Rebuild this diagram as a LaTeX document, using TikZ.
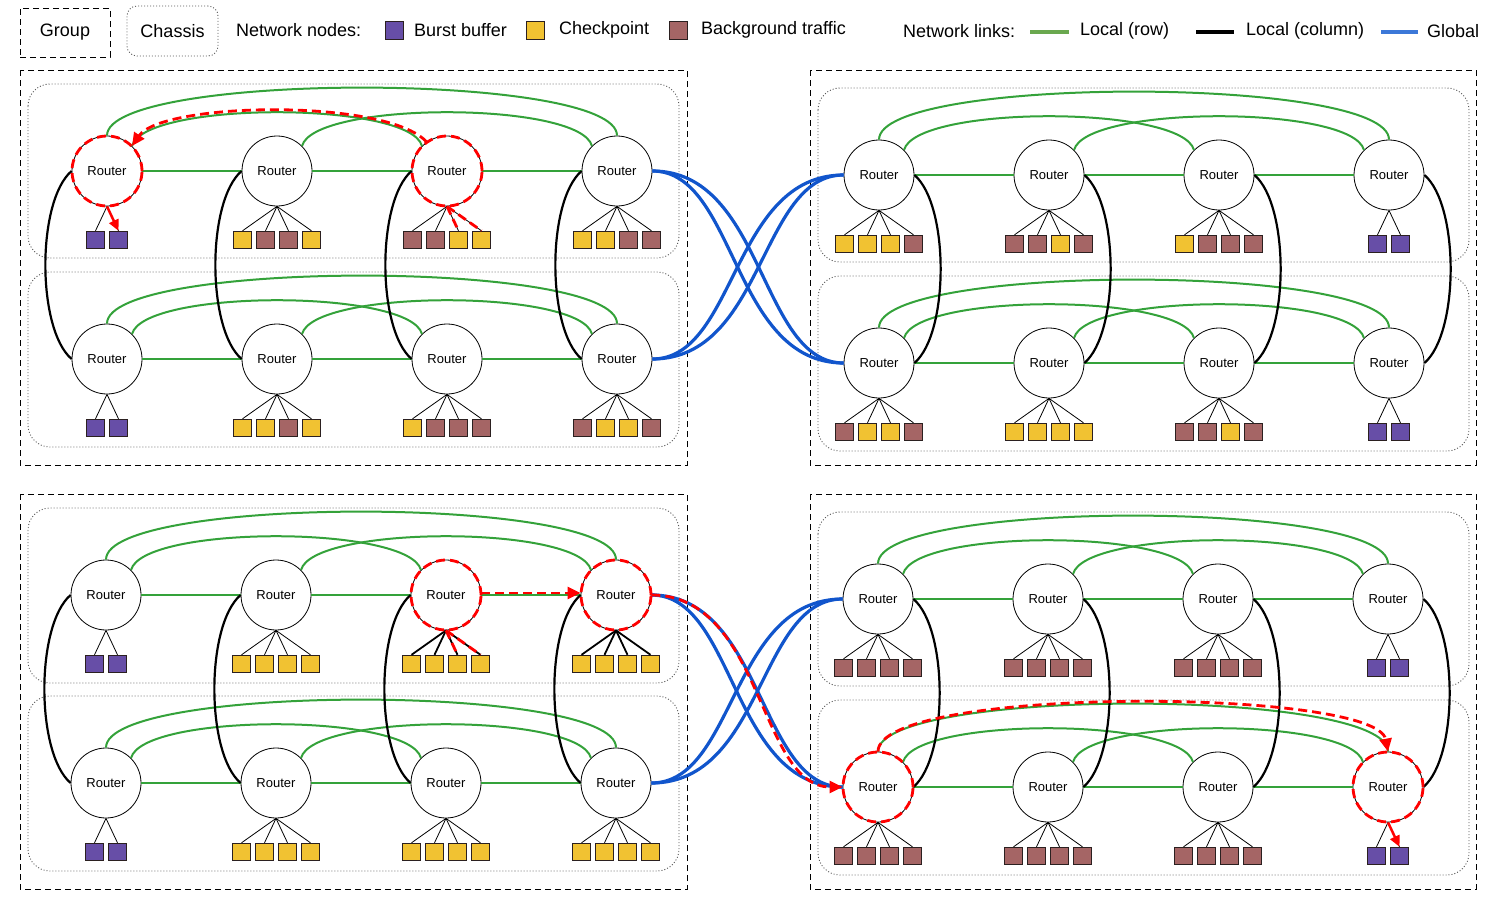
\documentclass[tikz,border=0pt]{standalone}
\usepackage{fontspec}
\setmainfont{Liberation Sans}
\usetikzlibrary{arrows.meta,calc}
\definecolor{cP}{HTML}{674EA7}
\definecolor{cY}{HTML}{F1C232}
\definecolor{cB}{HTML}{A56565}
\definecolor{lgreen}{HTML}{34A23A}
\definecolor{lgreenL}{HTML}{6AA84F}
\definecolor{gblue}{HTML}{1155CC}
\definecolor{gblueL}{HTML}{3C78D8}
\definecolor{sqedge}{HTML}{2B2020}
\newcommand\lgfont{\fontsize{18}{21}\selectfont}
\newcommand\leaves[4][leafline]{%
  \foreach \leafcol [count=\idx] in {#4} {
    \node[leaf, fill=c\leafcol] (#2-s\idx) at ($(#2)+({(\idx-(#3+1)/2)*23},69)$) {};
    \draw[#1] (#2.south) -- (#2-s\idx.north);
  }%
}
\newcommand\rowlinks[1]{%
  \draw[rowl] (#1-1) -- (#1-2) (#1-2) -- (#1-3) (#1-3) -- (#1-4);
  \draw[rowl] (#1-1.north) .. controls +(0,-64) and +(0,-64) .. (#1-4.north);
  \draw[rowl] (#1-1.45) .. controls +(12,-45) and +(-12,-45) .. (#1-3.135);
  \draw[rowl] (#1-2.45) .. controls +(12,-45) and +(-12,-45) .. (#1-4.135);
}
\newcommand\collinks[3]{%
  \foreach \ii in {1,...,4} {
    \draw[coll] (#1-1-\ii.#2) .. controls +(#3,30) and +(#3,-30) .. (#1-2-\ii.#2);
  }%
}
\begin{document}
\begin{tikzpicture}[x=1pt,y=-1pt,
  router/.style={circle, draw, line width=0.8pt, fill=white, minimum size=70pt, inner sep=0pt, font=\fontsize{13}{15}\selectfont},
  leaf/.style={draw=sqedge, line width=0.9pt, minimum size=17.5pt, inner sep=0pt},
  leafline/.style={line width=0.8pt},
  thickleaf/.style={line width=1.8pt},
  rowl/.style={draw=lgreen, line width=2pt},
  coll/.style={draw=black, line width=2.2pt},
  glob/.style={draw=gblue, line width=3.2pt},
  grp/.style={draw=black, line width=0.9pt, dash pattern=on 6pt off 4pt},
  chassis/.style={draw=black!65, line width=0.9pt, dash pattern=on 1pt off 2pt, rounded corners=22pt},
  reddash/.style={draw=red, line width=2.8pt, dash pattern=on 9pt off 5pt},
  redtip/.style={-{Triangle[length=13pt,width=12pt]}},
  lgtext/.style={anchor=west, inner sep=0pt, font=\lgfont},
  lgsq/.style={draw=sqedge, line width=0.9pt, minimum size=18pt, inner sep=0pt}
]
\useasboundingbox (0,0) rectangle (1496,910);

% ---------------- legend ----------------
\node[grp, minimum width=90pt, minimum height=49pt, font=\lgfont] (lgGroup) at (65,32.5) {Group};
\node[chassis, rounded corners=10pt, minimum width=91pt, minimum height=50pt, font=\lgfont] (lgChassis) at (172.5,31) {Chassis};
\node[lgtext] (lgNodes) at (236,30) {Network nodes:};
\node[lgsq, fill=cP] (lgP) at (394,30) {};
\node[lgtext] (lgPt) at (414,30) {Burst buffer};
\node[lgsq, fill=cY] (lgY) at (535,30) {};
\node[lgtext] (lgYt) at (559,30) {Checkpoint};
\node[lgsq, fill=cB] (lgB) at (678,30) {};
\node[lgtext] (lgBt) at (701,30) {Background traffic};
\node[lgtext] (lgLinks) at (903,31) {Network links:};
\coordinate (lgG1) at (1030,32); \coordinate (lgG2) at (1069,32);
\draw[lgreenL, line width=4pt] (lgG1) -- (lgG2);
\node[lgtext] (lgGt) at (1080,31) {Local (row)};
\coordinate (lgK1) at (1196,32); \coordinate (lgK2) at (1234,32);
\draw[black, line width=4pt] (lgK1) -- (lgK2);
\node[lgtext] (lgKt) at (1246,31) {Local (column)};
\coordinate (lgU1) at (1381,32); \coordinate (lgU2) at (1418,32);
\draw[gblueL, line width=4pt] (lgU1) -- (lgU2);
\node[lgtext] (lgUt) at (1427,31) {Global};

% ---------------- groups and chassis ----------------
\draw[grp] (20,70) rectangle (687,465);
\draw[grp] (810,70) rectangle (1476,465);
\draw[grp] (20,494) rectangle (687,889);
\draw[grp] (810,494) rectangle (1476,889);
\draw[chassis] (28,84) rectangle (679,258);
\draw[chassis] (28,272) rectangle (679,447);
\draw[chassis] (818,88) rectangle (1469,262);
\draw[chassis] (818,276) rectangle (1469,451);
\draw[chassis] (28,508) rectangle (679,683);
\draw[chassis] (28,696) rectangle (679,871);
\draw[chassis] (818,512) rectangle (1469,686);
\draw[chassis] (818,700) rectangle (1469,875);

% ---------------- routers ----------------
\foreach \g/\xo/\ya/\yb in {TL/107/171/359, TR/879/175/363, BL/106/595/783, BR/878/599/787} {
  \foreach \r/\yy in {1/\ya, 2/\yb} {
    \foreach \i in {1,...,4} {
      \node[router] (\g-\r-\i) at ({\xo+170*(\i-1)},\yy) {Router};
    }
  }
}

% ---------------- links ----------------
\foreach \g in {TL,TR,BL,BR} {
  \rowlinks{\g-1}
  \rowlinks{\g-2}
}
\collinks{TL}{west}{-35}
\collinks{BL}{west}{-35}
\collinks{TR}{east}{35}
\collinks{BR}{east}{35}

\foreach \ka/\kb in {112/84, 84/112} {
  \draw[glob] (TL-1-4.east) .. controls +(\ka,0) and +(-\kb,0) .. (TR-2-1.west);
  \draw[glob] (TL-2-4.east) .. controls +(\ka,0) and +(-\kb,0) .. (TR-1-1.west);
  \draw[glob] (BL-1-4.east) .. controls +(\ka,0) and +(-\kb,0) .. (BR-2-1.west);
  \draw[glob] (BL-2-4.east) .. controls +(\ka,0) and +(-\kb,0) .. (BR-1-1.west);
}

% ---------------- network nodes ----------------
\leaves{TL-1-1}{2}{P,P}
\leaves{TL-1-2}{4}{Y,B,B,Y}
\leaves{TL-1-3}{4}{B,B,Y,Y}
\leaves{TL-1-4}{4}{Y,Y,B,B}
\leaves{TL-2-1}{2}{P,P}
\leaves{TL-2-2}{4}{Y,Y,B,Y}
\leaves{TL-2-3}{4}{Y,B,B,B}
\leaves{TL-2-4}{4}{B,Y,Y,B}
\leaves{TR-1-1}{4}{Y,Y,Y,B}
\leaves{TR-1-2}{4}{B,B,Y,B}
\leaves{TR-1-3}{4}{Y,B,B,B}
\leaves{TR-1-4}{2}{P,P}
\leaves{TR-2-1}{4}{B,Y,Y,B}
\leaves{TR-2-2}{4}{Y,Y,Y,Y}
\leaves{TR-2-3}{4}{B,B,Y,B}
\leaves{TR-2-4}{2}{P,P}
\leaves{BL-1-1}{2}{P,P}
\leaves{BL-1-2}{4}{Y,Y,Y,Y}
\leaves[thickleaf]{BL-1-3}{4}{Y,Y,Y,Y}
\leaves[thickleaf]{BL-1-4}{4}{Y,Y,Y,Y}
\leaves{BL-2-1}{2}{P,P}
\leaves{BL-2-2}{4}{Y,Y,Y,Y}
\leaves{BL-2-3}{4}{Y,Y,Y,Y}
\leaves{BL-2-4}{4}{Y,Y,Y,Y}
\leaves{BR-1-1}{4}{B,B,B,B}
\leaves{BR-1-2}{4}{B,B,B,B}
\leaves{BR-1-3}{4}{B,B,B,B}
\leaves{BR-1-4}{2}{P,P}
\leaves{BR-2-1}{4}{B,B,B,B}
\leaves{BR-2-2}{4}{B,B,B,B}
\leaves{BR-2-3}{4}{B,B,B,B}
\leaves{BR-2-4}{2}{P,P}

% ---------------- highlighted traffic ----------------
\foreach \n in {TL-1-1, TL-1-3, BL-1-3, BL-1-4, BR-2-1, BR-2-4} {
  \draw[reddash] (\n.center) circle [radius=35pt];
}
% top-left group
\draw[reddash] (TL-1-3.south) -- (TL-1-3-s3.north);
\draw[reddash] (TL-1-3.south) -- (TL-1-3-s4.north);
\draw[reddash, redtip] (TL-1-3.125) .. controls +(-40,-44) and +(30,-44) .. (TL-1-1.45);
\draw[red, line width=2.5pt, -{Triangle[length=11pt,width=10pt]}] (TL-1-1.south) -- (TL-1-1-s2.north);
% bottom groups
\draw[reddash] (BL-1-3.south) -- (BL-1-3-s3.north);
\draw[reddash] (BL-1-3.south) -- (BL-1-3-s4.north);
\draw[reddash, redtip] ([yshift=2pt]BL-1-3.east) -- ([yshift=2pt]BL-1-4.west);
\draw[reddash, redtip] (BL-1-4.east) .. controls +(112,0) and +(-84,0) .. (BR-2-1.west);
\draw[reddash, redtip] (BR-2-1.north) .. controls +(0,-66) and +(-12,-64) .. (BR-2-4.north);
\draw[red, line width=2.5pt, -{Triangle[length=11pt,width=10pt]}] (BR-2-4.south) -- (BR-2-4-s2.north);
\end{tikzpicture}
\end{document}
